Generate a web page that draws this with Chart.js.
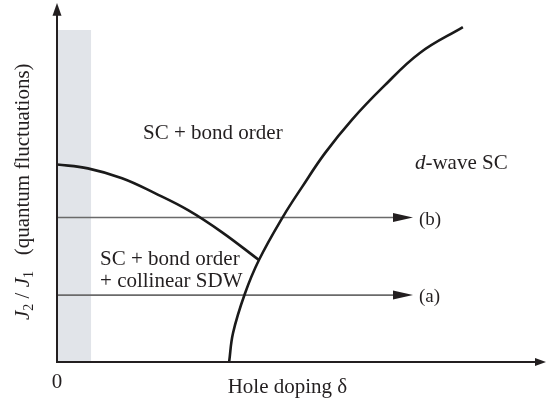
<!DOCTYPE html>
<html lang="en">
<head>
    <meta charset="UTF-8">
    <title>Phase diagram</title>
    <script src="https://cdn.jsdelivr.net/npm/chart.js@4"></script>
    <style>
        body { margin: 0; background: #fff; }
        canvas { display: block; }
    </style>
</head>
<body>
    <canvas id="phaseChart" width="546" height="407"></canvas>

    <script>
        // doping (x) and J2/J1 (y) in arbitrary units, 0..1 across the axes
        const bondOrderX = [0, 0.063, 0.133, 0.200, 0.268, 0.337, 0.413];
        const bondOrderY = [0.558, 0.547, 0.519, 0.477, 0.429, 0.367, 0.288];

        const scEdgeX = [0.352, 0.360, 0.384, 0.413, 0.462, 0.501, 0.548, 0.603, 0.667, 0.742, 0.830];
        const scEdgeY = [0, 0.082, 0.192, 0.288, 0.410, 0.494, 0.590, 0.684, 0.777, 0.873, 0.946];

        const pathNames = ["(a)", "(b)"];
        const pathLevels = [0.189, 0.408];
        const pathEnd = 0.728;

        const bandEdge = 0.07;
        const bandTop = 0.938;

        const regionNames = ["SC + bond order", "d-wave SC", "SC + bond order", "+ collinear SDW"];
        const xTitle = "Hole doping \u03b4";
        const originLabel = "0";

        const serif = '"Liberation Serif", "Times New Roman", serif';
        const ink = "#231f20";

        function toPoints(xs, ys) {
            return xs.map((x, i) => ({ x: x, y: ys[i] }));
        }

        // axes, arrows and all the annotation text
        const decorations = {
            id: "decorations",
            afterDatasetsDraw(chart) {
                const ctx = chart.ctx;
                const xs = chart.scales.x;
                const ys = chart.scales.y;
                const px = v => xs.getPixelForValue(v);
                const py = v => ys.getPixelForValue(v);

                function tri(ax, ay, bx, by, cx, cy) {
                    ctx.beginPath();
                    ctx.moveTo(ax, ay);
                    ctx.lineTo(bx, by);
                    ctx.lineTo(cx, cy);
                    ctx.closePath();
                    ctx.fill();
                }

                ctx.save();
                ctx.fillStyle = ink;

                // arrowheads of the two doping paths
                pathLevels.forEach(level => {
                    const tip = px(pathEnd);
                    const y = py(level);
                    tri(tip, y, tip - 20, y - 4.5, tip - 20, y + 4.5);
                });

                // axes
                const x0 = px(0), y0 = py(0);
                ctx.strokeStyle = ink;
                ctx.lineWidth = 2;
                ctx.beginPath();
                ctx.moveTo(x0, y0);
                ctx.lineTo(x0, py(1.0) + 6);
                ctx.moveTo(x0 - 1, y0);
                ctx.lineTo(px(1) - 8, y0);
                ctx.stroke();
                tri(x0, py(1.014), x0 - 4.5, py(0.978), x0 + 4.5, py(0.978));
                tri(px(1), y0, px(1) - 11, y0 - 4, px(1) - 11, y0 + 4);

                ctx.font = "21px " + serif;
                ctx.textBaseline = "alphabetic";
                ctx.textAlign = "left";

                ctx.fillText(regionNames[0], px(0.176), py(0.630));
                ctx.fillText(regionNames[2], px(0.088), py(0.274));
                ctx.fillText(regionNames[3], px(0.088), py(0.212));

                // d-wave SC with italic d
                const dx = px(0.732), dy = py(0.545);
                ctx.font = "italic 21px " + serif;
                ctx.fillText(regionNames[1].slice(0, 1), dx, dy);
                const dw = ctx.measureText(regionNames[1].slice(0, 1)).width;
                ctx.font = "21px " + serif;
                ctx.fillText(regionNames[1].slice(1), dx + dw, dy);

                ctx.font = "19px " + serif;
                pathLevels.forEach((level, i) => {
                    ctx.fillText(pathNames[i], px(pathEnd) + 6, py(level) + 7);
                });

                ctx.font = "21px " + serif;
                ctx.textAlign = "center";
                ctx.fillText(originLabel, x0, py(-0.073));
                ctx.textAlign = "left";
                ctx.fillText(xTitle, px(0.349), py(-0.087));

                // rotated y title: J2 / J1  (quantum fluctuations)
                ctx.translate(28.5, 320);
                ctx.rotate(-Math.PI / 2);
                let pos = 0;
                const parts = [
                    ["italic 21px ", "J", 0],
                    ["14px ", "2", 4],
                    ["21px ", " / ", 0],
                    ["italic 21px ", "J", 0],
                    ["14px ", "1", 4],
                    ["21px ", "   (quantum fluctuations)", 0]
                ];
                parts.forEach(p => {
                    ctx.font = p[0] + serif;
                    ctx.fillText(p[1], pos, p[2]);
                    pos += ctx.measureText(p[1]).width;
                });
                ctx.restore();
            }
        };

        document.addEventListener("DOMContentLoaded", function() {
            const chartCtx = document.getElementById("phaseChart").getContext("2d");
            const datasets = [
                {
                    label: "band",
                    data: [{ x: 0, y: bandTop }, { x: bandEdge, y: bandTop }],
                    showLine: true,
                    fill: "origin",
                    backgroundColor: "#e1e4e9",
                    borderWidth: 0,
                    pointRadius: 0,
                    order: 10
                },
                {
                    label: "bond order",
                    data: toPoints(bondOrderX, bondOrderY),
                    showLine: true,
                    borderColor: "#1a1a1a",
                    borderWidth: 2.6,
                    pointRadius: 0,
                    tension: 0.4,
                    order: 1
                },
                {
                    label: "SC edge",
                    data: toPoints(scEdgeX, scEdgeY),
                    showLine: true,
                    borderColor: "#1a1a1a",
                    borderWidth: 2.6,
                    pointRadius: 0,
                    tension: 0.4,
                    order: 1
                }
            ];
            pathLevels.forEach((level, i) => {
                datasets.push({
                    label: pathNames[i],
                    data: [{ x: 0, y: level }, { x: pathEnd - 0.03, y: level }],
                    showLine: true,
                    borderColor: "#6a6a6a",
                    borderWidth: 1.6,
                    pointRadius: 0,
                    order: 2
                });
            });

            new Chart(chartCtx, {
                type: "scatter",
                data: { datasets: datasets },
                options: {
                    responsive: false,
                    animation: false,
                    devicePixelRatio: 1,
                    layout: { padding: { left: 57, right: 0, top: 8, bottom: 45 } },
                    scales: {
                        x: { type: "linear", min: 0, max: 1, display: false },
                        y: { type: "linear", min: 0, max: 1, display: false }
                    },
                    plugins: {
                        legend: { display: false },
                        tooltip: { enabled: false }
                    }
                },
                plugins: [decorations]
            });
        });
    </script>
</body>
</html>
